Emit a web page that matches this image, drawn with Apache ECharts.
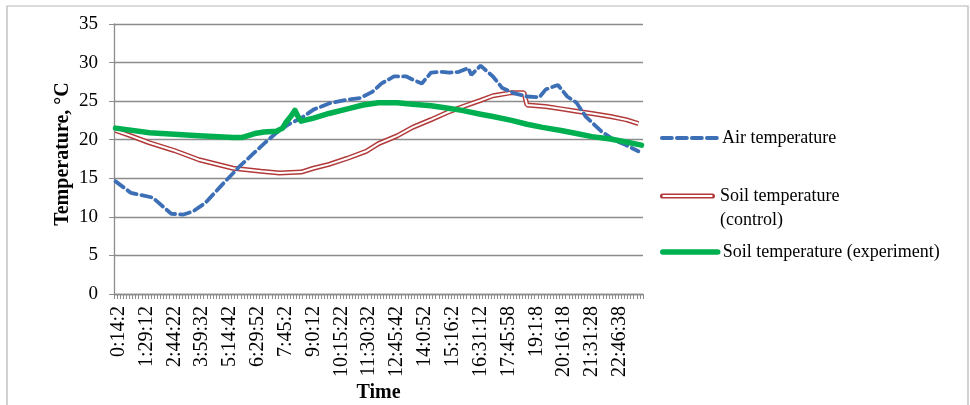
<!DOCTYPE html>
<html>
<head>
<meta charset="utf-8">
<script src="https://cdn.jsdelivr.net/npm/echarts@6/dist/echarts.min.js"></script>
<style>
html,body{margin:0;padding:0;background:#fff;overflow:hidden;}
#chart{width:970px;height:405px;}
</style>
</head>
<body>
<div id="chart"></div>
<script>
// Tick labels shown every 9th category
var tickLabels = ['0:14:2','1:29:12','2:44:22','3:59:32','5:14:42','6:29:52','7:45:2','9:0:12','10:15:22','11:30:32','12:45:42','14:0:52','15:16:2','16:31:12','17:45:58','19:1:8','20:16:18','21:31:28','22:46:38'];
var categoryCount = 171;
var labelStep = 9;
var labelOffset = 1;

// Air temperature: category index / value
var airIdx = [0,5,12,18,22,25,29,35,40,44,48,52,56,60,64,69,75,79,83,86,90,94,96,99,102,105,108,111,114,115,118,122,125,129,133,137,139,143,146,149,152,157,161,165,169];
var airVal = [14.6,13.1,12.5,10.4,10.3,10.7,11.8,14.4,16.5,18.0,19.5,20.9,22.0,22.8,23.9,24.7,25.2,25.4,26.2,27.3,28.2,28.2,27.8,27.3,28.7,28.8,28.7,28.8,29.3,28.4,29.6,28.2,26.7,26.0,25.6,25.5,26.5,27.1,25.6,24.8,23.0,21.1,20.0,19.3,18.5];

// Soil temperature (control)
var ctrlIdx = [0,5,11,19,27,38,47,53,60,64,69,75,81,85,91,96,102,107,113,118,122,128,132,133,139,144,149,154,160,165,169];
var ctrlVal = [21.2,20.5,19.6,18.6,17.4,16.3,15.9,15.7,15.8,16.3,16.8,17.6,18.5,19.5,20.5,21.6,22.6,23.5,24.4,25.1,25.7,26.1,26.1,24.5,24.3,24.0,23.7,23.4,23.0,22.6,22.1];

// Soil temperature (experiment)
var expIdx = [0,11,27,38,41,45,48,52,54,55,57,58,59,60,64,69,75,80,85,91,96,102,107,112,118,122,128,133,138,144,149,154,160,165,170];
var expVal = [21.5,20.9,20.5,20.3,20.3,20.8,21.0,21.1,21.5,22.2,23.2,23.8,23.0,22.4,22.8,23.4,24.0,24.5,24.8,24.8,24.6,24.4,24.1,23.8,23.3,23.0,22.5,22.0,21.6,21.2,20.8,20.4,20.1,19.7,19.3];

var yTicks = [0,5,10,15,20,25,30,35];

function pairs(idx, val){ return idx.map(function(x,i){ return [x, val[i]]; }); }

var categories = [];
for (var i = 0; i < categoryCount; i++) {
  var k = i - labelOffset;
  categories.push(k >= 0 && k % labelStep === 0 ? tickLabels[k / labelStep] : ('c' + i));
}

var serif = '"Liberation Serif","Times New Roman",serif';
var chart = echarts.init(document.getElementById('chart'), null, {renderer:'canvas'});

var legendText = {fontFamily: serif, fontSize: 18, color: '#000'};
var AIR = '#3d6fb6', CTRL = '#b23a3a', EXP = '#00b050';

chart.setOption({
  animation: false,
  backgroundColor: '#fff',
  grid: {left: 114, right: 327, top: 24, bottom: 111, containLabel: false, outerBoundsMode: 'none'},
  graphic: [
    {
      type: 'rect', silent: true, z: -1,
      shape: {x: 7, y: 6, width: 961, height: 420},
      style: {fill: 'none', stroke: '#b5b5b5', lineWidth: 1.2}
    },
    {
      type: 'text', silent: true,
      left: 720, top: 211,
      style: {text: '(control)', font: '18px ' + serif, fill: '#000'}
    }
  ],
  legend: [
    {
      data: [{name: 'Air temperature', itemStyle: {opacity: 0},
              lineStyle: {color: AIR, width: 3.8, type: [10, 5]}}],
      left: 660, top: 129, padding: 0, itemWidth: 55, itemHeight: 2, itemGap: 4,
      textStyle: legendText, orient: 'vertical', selectedMode: false
    },
    {
      data: [{name: 'Soil temperature (control)',
              icon: 'path://M2,0 H98 A2,2 0 0 1 98,10 H2 A2,2 0 0 1 2,0 Z M2,3.3 V6.7 H98 V3.3 Z',
              itemStyle: {color: CTRL}}],
      left: 660, top: 187, padding: 0, itemWidth: 55, itemHeight: 6, itemGap: 4,
      textStyle: legendText, orient: 'vertical', selectedMode: false,
      formatter: function(){ return 'Soil temperature'; }
    },
    {
      data: [{name: 'Soil temperature (experiment)', itemStyle: {opacity: 0},
              lineStyle: {color: EXP, width: 5.5, cap: 'round'}}],
      left: 660, top: 243, padding: 0, itemWidth: 55, itemHeight: 2, itemGap: 4,
      textStyle: legendText, orient: 'vertical', selectedMode: false
    }
  ],
  xAxis: {
    type: 'category',
    data: categories,
    boundaryGap: true,
    name: 'Time',
    nameLocation: 'middle',
    nameGap: 89,
    nameMoveOverlap: false,
    nameTextStyle: {fontFamily: serif, fontSize: 20, fontWeight: 'bold', color: '#000'},
    axisLine: {lineStyle: {color: '#8c8c8c', width: 1.3}},
    axisTick: {show: true, interval: 0, length: 5, lineStyle: {color: '#8c8c8c', width: 1}},
    axisLabel: {
      interval: function(idx){ return idx >= labelOffset && (idx - labelOffset) % labelStep === 0; },
      rotate: 90,
      margin: 12,
      fontFamily: serif, fontSize: 20, color: '#000',
      formatter: function(v, idx){
        var k = idx - labelOffset;
        return (k >= 0 && k % labelStep === 0) ? tickLabels[k / labelStep] : '';
      }
    },
    splitLine: {show: false}
  },
  yAxis: {
    type: 'value',
    min: yTicks[0], max: yTicks[yTicks.length - 1], interval: 5,
    name: 'Temperature, \u00B0C',
    nameLocation: 'middle',
    nameGap: 41,
    nameMoveOverlap: false,
    nameRotate: 90,
    nameTextStyle: {fontFamily: serif, fontSize: 20, fontWeight: 'bold', color: '#000', padding: [0, 0, 0, 10]},
    axisLine: {show: true, lineStyle: {color: '#8c8c8c', width: 1.3}},
    axisTick: {show: true, length: 5, lineStyle: {color: '#8c8c8c'}},
    axisLabel: {fontFamily: serif, fontSize: 19, color: '#000', margin: 16},
    splitLine: {lineStyle: {color: '#8c8c8c', width: 1.3}}
  },
  series: [
    {
      name: 'Air temperature', type: 'line', symbol: 'none', z: 3,
      data: pairs(airIdx, airVal),
      itemStyle: {color: AIR},
      lineStyle: {color: AIR, width: 3.8, type: [10, 5], cap: 'round'}
    },
    {
      name: 'Soil temperature (control)', type: 'line', symbol: 'none', z: 2,
      data: pairs(ctrlIdx, ctrlVal),
      itemStyle: {color: CTRL},
      lineStyle: {color: CTRL, width: 5}
    },
    {
      name: 'ctrl-inner', type: 'line', symbol: 'none', z: 2,
      data: pairs(ctrlIdx, ctrlVal),
      lineStyle: {color: '#ffffff', width: 2},
      itemStyle: {color: '#ffffff'}
    },
    {
      name: 'Soil temperature (experiment)', type: 'line', symbol: 'none', z: 4,
      data: pairs(expIdx, expVal),
      itemStyle: {color: EXP},
      lineStyle: {color: EXP, width: 5.5, cap: 'round', join: 'round'}
    }
  ]
});
</script>
</body>
</html>
